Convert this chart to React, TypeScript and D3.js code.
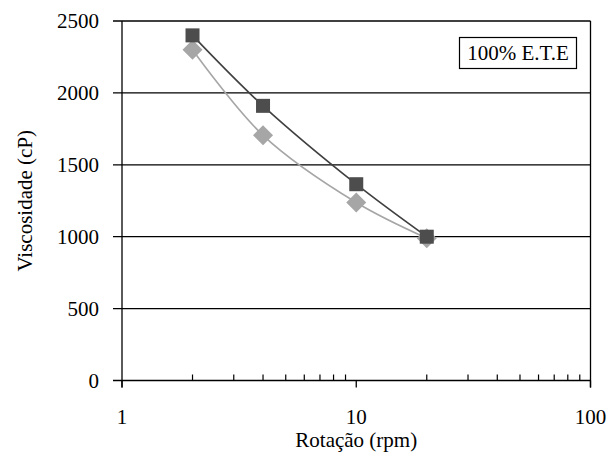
import React from "react";
import * as d3 from "d3";

// rotação (rpm)
const rotacao = [2, 4, 10, 20];
// 100% E.T.E series
const serieQuadrado = [2400, 1910, 1365, 1000];
const serieLosango = [2300, 1705, 1238, 990];
const yTicks = [0, 500, 1000, 1500, 2000, 2500];
const xMajor = [1, 10, 100];
const legendLabel = "100% E.T.E";

const width = 615;
const height = 465;
const margin = { top: 21, right: 24.5, bottom: 84.5, left: 122 };
const fs = 21;

const T = (props: any) => (
  <text fontFamily="Liberation Serif" fontSize={fs} fill="#000" {...props} />
);

const App = () => {
  const x = d3.scaleLog().domain([1, 100]).range([margin.left, width - margin.right]);
  const y = d3.scaleLinear().domain([0, 2500]).range([height - margin.bottom, margin.top]);

  const x0 = margin.left;
  const x1 = width - margin.right;
  const yb = y(0);
  const minor = x.ticks().filter((d) => !xMajor.includes(d));

  const line = d3
    .line<number>()
    .x((_, i) => x(rotacao[i]))
    .y((d) => y(d))
    .curve(d3.curveCatmullRom.alpha(0.5));

  const dsz = 10;
  const s = 14;

  return (
    <svg
      width={width}
      height={height}
      style={{ position: "absolute", left: 0, top: 0, background: "#fff" }}
    >
      {/* gridlines, extended left as tick marks */}
      {yTicks.map((d) => (
        <line key={d} x1={x0 - 9} x2={x1} y1={y(d)} y2={y(d)} stroke="#000" strokeWidth={1.3} />
      ))}
      <line x1={x0} x2={x0} y1={y(2500)} y2={yb + 7} stroke="#000" strokeWidth={1.3} />
      <line x1={x1} x2={x1} y1={y(2500)} y2={yb + 7} stroke="#000" strokeWidth={1.3} />
      {xMajor.map((d) => (
        <line key={d} x1={x(d)} x2={x(d)} y1={yb} y2={yb + 7} stroke="#000" strokeWidth={1.3} />
      ))}
      {minor.map((d) => (
        <line key={d} x1={x(d)} x2={x(d)} y1={yb} y2={yb - 6} stroke="#000" strokeWidth={1.2} />
      ))}

      {/* tick labels */}
      {yTicks.map((d) => (
        <T key={d} x={99} y={y(d) + 7}  textAnchor="end">
          {String(d)}
        </T>
      ))}
      {xMajor.map((d) => (
        <T key={d} x={x(d)} y={424} textAnchor="middle">
          {String(d)}
        </T>
      ))}

      {/* axis titles */}
      <T x={(x0 + x1) / 2} y={447} textAnchor="middle">
        Rotação (rpm)
      </T>
      <T transform={`translate(32, ${(margin.top + yb) / 2}) rotate(-90)`} textAnchor="middle">
        Viscosidade (cP)
      </T>

      {/* light grey diamonds */}
      <path d={line(serieLosango) ?? ""} fill="none" stroke="#a6a6a6" strokeWidth={1.6} />
      {serieLosango.map((d, i) => {
        const cx = x(rotacao[i]);
        const cy = y(d);
        return (
          <path
            key={i}
            d={`M${cx},${cy - dsz}L${cx + dsz},${cy}L${cx},${cy + dsz}L${cx - dsz},${cy}Z`}
            fill="#a6a6a6"
          />
        );
      })}

      {/* dark squares */}
      <path d={line(serieQuadrado) ?? ""} fill="none" stroke="#404040" strokeWidth={1.6} />
      {serieQuadrado.map((d, i) => (
        <rect key={i} x={x(rotacao[i]) - s / 2} y={y(d) - s / 2} width={s} height={s} fill="#4d4d4d" />
      ))}

      {/* label box */}
      <rect x={459.5} y={37.5} width={117} height={31} fill="#fff" stroke="#000" strokeWidth={1.2} />
      <T x={518} y={60} textAnchor="middle">
        {legendLabel}
      </T>
    </svg>
  );
};

export default App;
